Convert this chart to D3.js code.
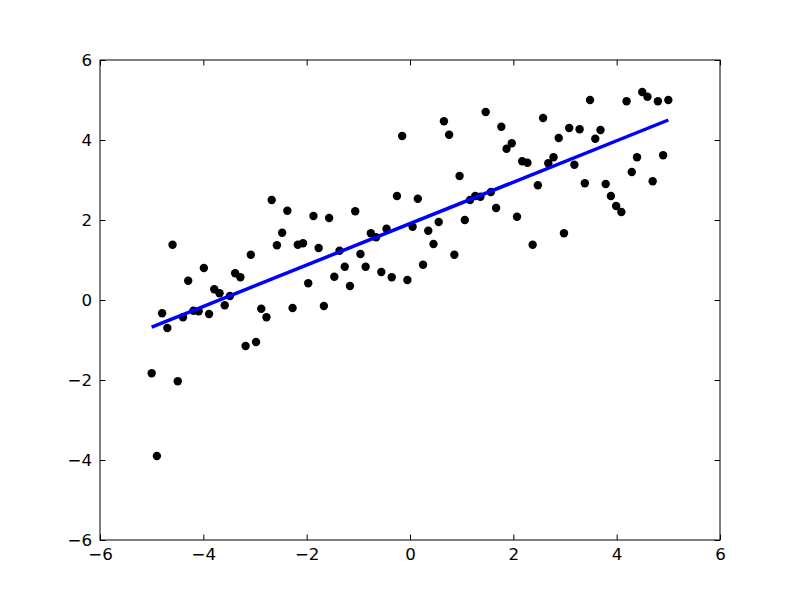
<!DOCTYPE html>
<html>
<head>
<meta charset="utf-8">
<script src="https://cdn.jsdelivr.net/npm/d3@7"></script>
<style>
  body { margin: 0; background: #fff; }
  svg { display: block; }
  text { font-family: "DejaVu Sans", sans-serif; font-size: 16.67px; fill: #000; }
</style>
</head>
<body>
<div id="chart"></div>
<script>
// scatter: 100 samples on x = -5..5
const xFirst = -5
const xLast = 5
const yValues = [
  -1.83, -3.9, -0.33, -0.7, 1.38, -2.03, -0.43, 0.48, -0.27, -0.28,
  0.8, -0.35, 0.27, 0.17, -0.13, 0.1, 0.67, 0.57, -1.15, 1.13,
  -1.05, -0.22, -0.43, 2.5, 1.37, 1.68, 2.23, -0.2, 1.38, 1.42,
  0.42, 2.1, 1.3, -0.15, 2.05, 0.58, 1.23, 0.83, 0.35, 2.22,
  1.15, 0.83, 1.67, 1.57, 0.7, 1.78, 0.57, 2.6, 4.1, 0.5,
  1.83, 2.53, 0.88, 1.73, 1.4, 1.95, 4.47, 4.13, 1.13, 3.1,
  2.0, 2.5, 2.6, 2.58, 4.7, 2.7, 2.3, 4.33, 3.78, 3.92,
  2.08, 3.47, 3.43, 1.38, 2.87, 4.55, 3.42, 3.57, 4.05, 1.67,
  4.3, 3.38, 4.27, 2.92, 5.0, 4.03, 4.25, 2.9, 2.6, 2.35,
  2.2, 4.97, 3.2, 3.57, 5.2, 5.08, 2.97, 4.97, 3.62, 5.0
]
// fitted line end points
const lineX = [-5, 5]
const lineY = [-0.68, 4.5]
const xTicks = [-6, -4, -2, 0, 2, 4, 6]
const yTicks = [-6, -4, -2, 0, 2, 4, 6]

const width = 800
const height = 600
const margin = { top: 60, right: 80, bottom: 60, left: 100 }
const tickLen = 5.5

const svg = d3.select('#chart').append('svg')
  .attr('width', width)
  .attr('height', height)

const x = d3.scaleLinear().domain([-6, 6]).range([margin.left, width - margin.right])
const y = d3.scaleLinear().domain([-6, 6]).range([height - margin.bottom, margin.top])

const fmt = (d) => (d < 0 ? '\u2212' + Math.abs(d) : '' + d)

const n = yValues.length
const points = yValues.map((v, i) => [xFirst + (i * (xLast - xFirst)) / (n - 1), v])

// points
svg.append('g')
  .selectAll('circle')
  .data(points)
  .enter()
  .append('circle')
  .attr('cx', (d) => x(d[0]))
  .attr('cy', (d) => y(d[1]))
  .attr('r', 4.2)
  .attr('fill', '#000')

// regression line
svg.append('path')
  .datum(lineX.map((d, i) => [d, lineY[i]]))
  .attr('fill', 'none')
  .attr('stroke', '#0000ff')
  .attr('stroke-width', 3.5)
  .attr('d', d3.line().x((d) => x(d[0])).y((d) => y(d[1])))

// axes, ticks pointing inward on all four sides
const axBottom = svg.append('g')
  .attr('transform', `translate(0,${height - margin.bottom})`)
  .call(d3.axisBottom(x).tickValues(xTicks).tickFormat(fmt).tickSizeInner(-tickLen).tickSizeOuter(0).tickPadding(8))
const axTop = svg.append('g')
  .attr('transform', `translate(0,${margin.top})`)
  .call(d3.axisTop(x).tickValues(xTicks).tickFormat('').tickSizeInner(-tickLen).tickSizeOuter(0))
const axLeft = svg.append('g')
  .attr('transform', `translate(${margin.left},0)`)
  .call(d3.axisLeft(y).tickValues(yTicks).tickFormat(fmt).tickSizeInner(-tickLen).tickSizeOuter(0).tickPadding(8))
const axRight = svg.append('g')
  .attr('transform', `translate(${width - margin.right},0)`)
  .call(d3.axisRight(y).tickValues(yTicks).tickFormat('').tickSizeInner(-tickLen).tickSizeOuter(0))

;[axBottom, axTop, axLeft, axRight].forEach((g) => {
  g.select('.domain').remove()
  g.selectAll('line').attr('stroke', '#000')
  g.selectAll('text').attr('font-family', '"DejaVu Sans", sans-serif').attr('font-size', 16.67).attr('fill', '#000')
})

// frame
svg.append('rect')
  .attr('x', margin.left)
  .attr('y', margin.top)
  .attr('width', width - margin.left - margin.right)
  .attr('height', height - margin.top - margin.bottom)
  .attr('fill', 'none')
  .attr('stroke', '#000')
  .attr('stroke-width', 1)
</script>
</body>
</html>
